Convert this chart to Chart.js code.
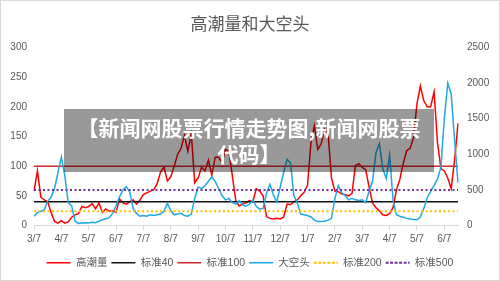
<!DOCTYPE html>
<html>
<head>
<meta charset="utf-8">
<script src="https://cdn.jsdelivr.net/npm/chart.js@4.4.1/dist/chart.umd.min.js"></script>
<style>
  html, body { margin: 0; padding: 0; background: #fff; }
  #wrap { position: relative; width: 500px; height: 281px; }
  #banner {
    position: absolute; left: 64px; top: 109px; width: 370px; height: 63px;
    box-sizing: border-box; padding-top: 5px;
    background: rgba(0, 0, 0, 0.4); color: #fff; text-align: center;
    font: bold 21px "Noto Sans CJK SC", sans-serif; line-height: 26px;
  }
</style>
</head>
<body>
<div id="wrap">
  <canvas id="chart"></canvas>
  <div id="banner">【新闻网股票行情走势图,新闻网股票<br>代码】</div>
</div>
<script>
// month tick labels, 8 samples per month
const months = ["3/7", "4/7", "5/7", "6/7", "7/7", "8/7", "9/7", "10/7", "11/7", "12/7", "1/7", "2/7", "3/7", "4/7", "5/7", "6/7"];
const perMonth = 8;

// 高潮量 (left axis)
const gaochao = [
  58, 92, 48, 43, 40, 22, 7, 4, 8, 4,
  6, 14, 18, 20, 32, 30, 32, 37, 28, 38,
  22, 28, 24, 25, 22, 45, 38, 36, 40, 43,
  36, 43, 52, 55, 58, 60, 70, 90, 98, 75,
  82, 100, 120, 130, 152, 125, 155, 72, 80, 98,
  92, 110, 85, 115, 115, 106, 128, 125, 84, 42,
  33, 36, 38, 42, 40, 62, 58, 50, 15, 12,
  11, 12, 11, 14, 36, 35, 40, 43, 50, 56,
  68, 140, 168, 128, 138, 162, 155, 80, 58, 57,
  53, 52, 50, 54, 101, 104, 98, 94, 65, 38,
  30, 25, 18, 17, 20, 30, 60, 78, 105, 126,
  130, 148, 205, 235, 210, 200, 200, 225, 140, 96,
  92, 80, 62, 110, 172
];

// 大空头 (right axis)
const dakongtou = [
  130, 180, 200, 220, 340, 400, 520, 740, 960, 700,
  320, 280, 60, 30, 35, 40, 35, 45, 40, 60,
  80, 95, 110, 170, 280, 400, 500, 545, 470, 240,
  170, 130, 140, 130, 150, 140, 150, 160, 200, 310,
  210, 150, 160, 170, 140, 130, 160, 380, 540, 520,
  560, 620, 680, 620, 520, 420, 360, 380, 320, 300,
  350, 290, 270, 300, 355, 270, 230, 240, 450, 580,
  430, 330, 540, 740, 930, 880, 420, 320, 160, 150,
  140, 120, 75, 55, 55, 60, 75, 100, 380, 560,
  460, 420, 360, 380, 360, 350, 360, 320, 480, 620,
  1020, 1150, 800, 660, 990, 360, 150, 130, 115, 100,
  90, 85, 80, 120, 240, 390, 480, 560, 650, 820,
  1500, 2000, 1850, 1200, 600
];

// reference levels
const level40 = 40, level100 = 100, level200 = 200, level500 = 500;

const categories = gaochao.map((v, i) => i % perMonth === 0 ? months[i / perMonth] : "");
const flat = (v) => new Array(categories.length).fill(v);

Chart.defaults.font.family = '"Liberation Sans", "Noto Sans CJK SC", sans-serif';
Chart.defaults.color = "#595959";

const frame = {
  id: "frame",
  afterDraw(chart) {
    const c = chart.ctx;
    c.save();
    c.strokeStyle = "#d9d9d9";
    c.lineWidth = 1;
    c.strokeRect(0.5, 0.5, chart.width - 1, chart.height - 1);
    c.restore();
  }
};

new Chart(document.getElementById("chart"), {
  type: "line",
  data: {
    labels: categories,
    datasets: [
      { label: "高潮量", data: gaochao, yAxisID: "y", borderColor: "#ff0000", backgroundColor: "#ff0000", borderWidth: 1.5, order: 6 },
      { label: "标准40", data: flat(level40), yAxisID: "y", borderColor: "#111111", backgroundColor: "#111111", borderWidth: 1.5, order: 5 },
      { label: "标准100", data: flat(level100), yAxisID: "y", borderColor: "#d42a2a", backgroundColor: "#d42a2a", borderWidth: 1.5, order: 4 },
      { label: "大空头", data: dakongtou, yAxisID: "y2", borderColor: "#1fa9e3", backgroundColor: "#1fa9e3", borderWidth: 1.5, order: 3 },
      { label: "标准200", data: flat(level200), yAxisID: "y2", borderColor: "#ffc000", backgroundColor: "#ffc000", borderWidth: 2, borderDash: [2, 2.5], order: 2 },
      { label: "标准500", data: flat(level500), yAxisID: "y2", borderColor: "#7030a0", backgroundColor: "#7030a0", borderWidth: 2, borderDash: [2, 2.5], order: 1 }
    ]
  },
  options: {
    responsive: true,
    maintainAspectRatio: false,
    animation: false,
    layout: { padding: { top: 0, bottom: 3, left: 0, right: 0 } },
    elements: { point: { radius: 0 }, line: { tension: 0 } },
    plugins: {
      title: {
        display: true,
        text: "高潮量和大空头",
        color: "#595959",
        font: { size: 17, weight: "normal", family: '"Noto Sans CJK SC", sans-serif' },
        padding: { top: 13, bottom: 14 }
      },
      legend: {
        position: "bottom",
        labels: {
          boxWidth: 24,
          boxHeight: 0,
          padding: 4,
          color: "#595959",
          font: { size: 10.5 },
          sort: (a, b) => a.datasetIndex - b.datasetIndex
        }
      },
      tooltip: { enabled: false }
    },
    scales: {
      x: {
        grid: { drawOnChartArea: false, color: "#d9d9d9", tickLength: 5 },
        border: { color: "#d9d9d9" },
        ticks: {
          autoSkip: false,
          maxRotation: 0,
          padding: 3,
          font: { size: 10 },
          callback: function (v) {
            const l = this.getLabelForValue(v);
            return l === "" ? null : l;
          }
        },
        afterFit: (s) => { s.height = 28; }
      },
      y: {
        position: "left",
        min: 0,
        max: 300,
        ticks: { stepSize: 50, padding: 7, font: { size: 10 }, callback: (v) => String(v) },
        grid: { display: false, drawTicks: false },
        border: { display: false },
        afterFit: (s) => { s.width = 34; }
      },
      y2: {
        position: "right",
        min: 0,
        max: 2500,
        ticks: { stepSize: 500, padding: 9, font: { size: 10 }, callback: (v) => String(v) },
        grid: { display: false, drawTicks: false },
        border: { display: false },
        afterFit: (s) => { s.width = 42; }
      }
    }
  },
  plugins: [frame]
});
</script>
</body>
</html>
